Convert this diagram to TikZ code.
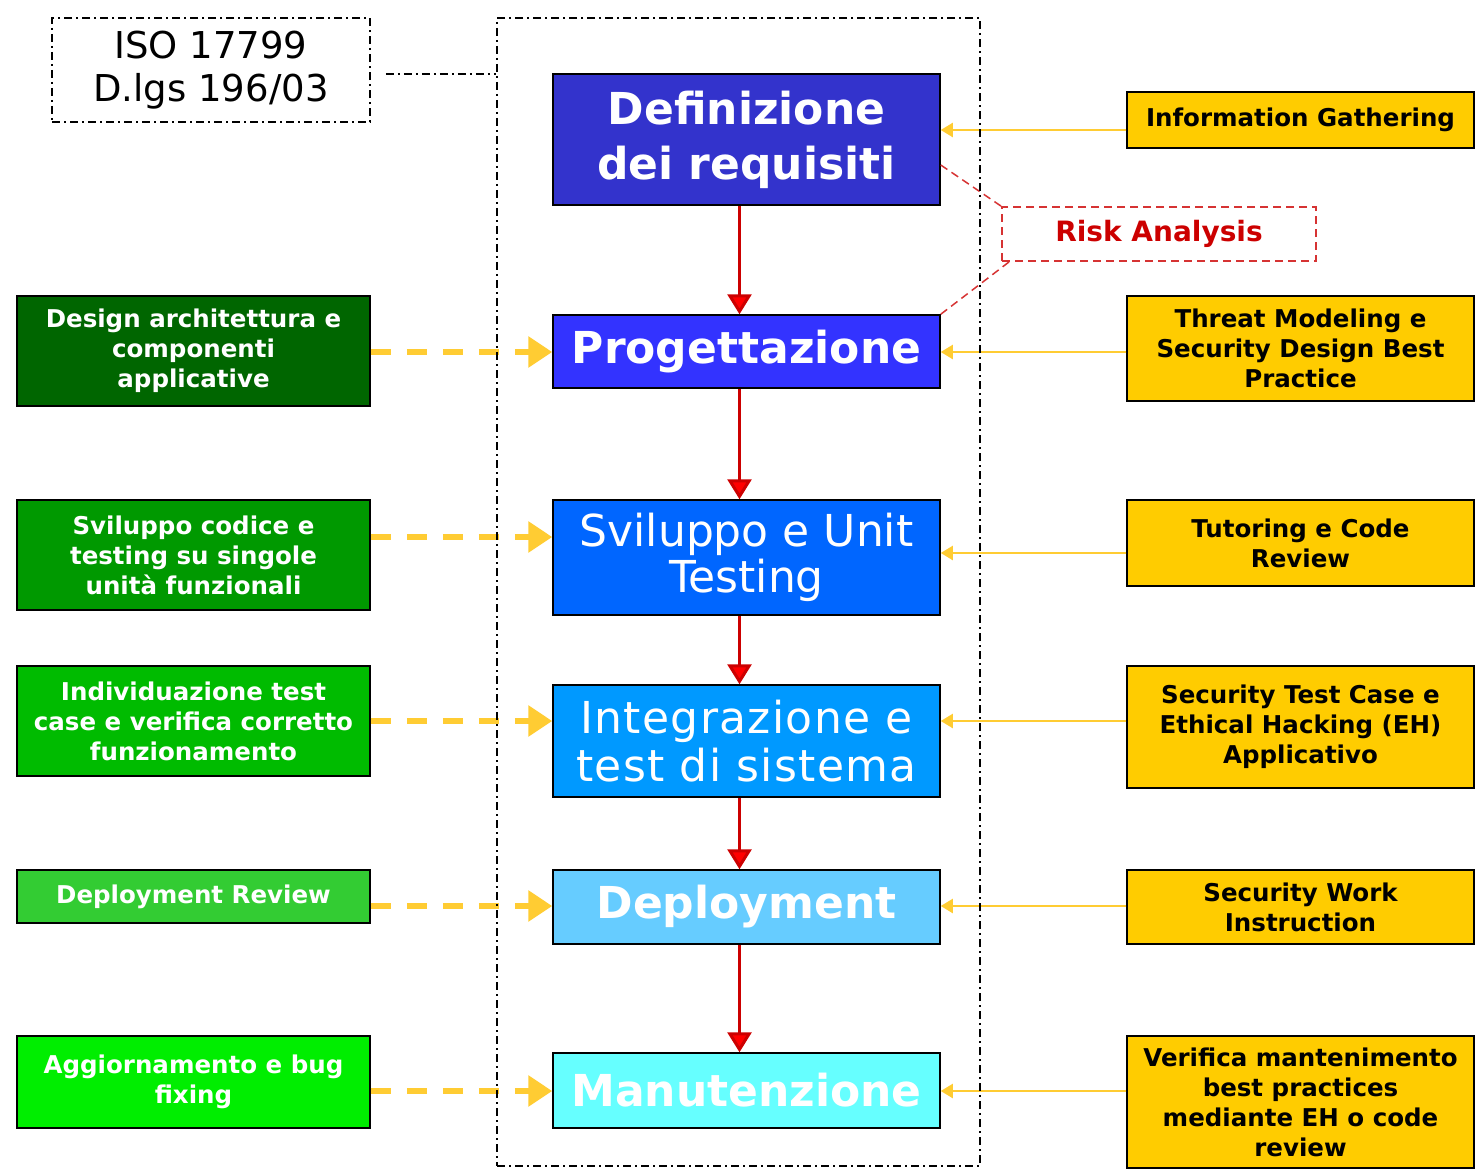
\documentclass[tikz,border=0pt]{standalone}
\usepackage{fontspec}
\setmainfont{DejaVu Sans}
\usepackage{tikz}
\usetikzlibrary{arrows.meta}

\definecolor{fase1}{HTML}{3333CC}
\definecolor{fase2}{HTML}{3333FF}
\definecolor{fase3}{HTML}{0066FF}
\definecolor{fase4}{HTML}{0099FF}
\definecolor{fase5}{HTML}{66CCFF}
\definecolor{fase6}{HTML}{66FFFF}
\definecolor{verde1}{HTML}{006600}
\definecolor{verde2}{HTML}{009900}
\definecolor{verde3}{HTML}{00BB00}
\definecolor{verde4}{HTML}{33CC33}
\definecolor{verde5}{HTML}{00EE00}
\definecolor{giallo}{HTML}{FFCC00}
\definecolor{oro}{HTML}{FFCC33}
\definecolor{rosso}{HTML}{CC0000}

\tikzset{
	fase/.style={draw=black, line width=1.5pt, minimum width=387pt, inner sep=0pt,
		text=white, align=center, font=\fontsize{44}{55}\selectfont\bfseries},
	attivita/.style={draw=black, line width=1.5pt, minimum width=353pt, inner sep=0pt,
		text=white, align=center, font=\fontsize{24.5}{30}\selectfont\bfseries},
	controllo/.style={draw=black, line width=1.5pt, fill=giallo, minimum width=347pt, inner sep=0pt,
		text=black, align=center, font=\fontsize{24.5}{30}\selectfont\bfseries},
	puntolinea/.style={line width=2pt, dash pattern=on 8pt off 4pt on 2pt off 4pt},
	freccia/.style={draw=rosso, line width=3pt, -{Triangle[width=24pt,length=20pt,fill=red]}},
	tratteggio/.style={draw=oro, line width=6pt, dash pattern=on 20pt off 16pt,
		-{Triangle[width=30pt,length=24pt]}},
	rimando/.style={draw=oro, line width=2pt, -{Triangle[width=14pt,length=12pt]}},
	rischio/.style={draw=rosso!80, line width=1.5pt, dash pattern=on 8pt off 5pt},
}

\begin{document}
\begin{tikzpicture}[x=1pt,y=-1pt]
	\useasboundingbox (0,0) rectangle (1476,1175);

	\node[draw=black, puntolinea, line width=1.5pt, minimum width=318pt, minimum height=104pt, inner sep=0pt,
		align=center, font=\fontsize{37}{43}\selectfont] (iso) at (211,70) {ISO 17799\\D.lgs 196/03};

	% fasi del ciclo di vita
	\node[fase, fill=fase1, minimum height=131pt] (def) at (746.5,139.5) {Definizione\\dei requisiti};
	\node[fase, fill=fase2, minimum height=73pt] (prog) at (746.5,351.5) {Progettazione};
	\node[fase, fill=fase3, minimum height=115pt, font=\fontsize{44}{46}\selectfont] (svil) at (746.5,557.5) {Sviluppo e Unit\\Testing};
	\node[fase, fill=fase4, minimum height=112pt, font=\fontsize{44}{48}\selectfont\addfontfeatures{LetterSpace=3}] (integ) at (746.5,741) {Integrazione e\\test di sistema};
	\node[fase, fill=fase5, minimum height=74pt] (depl) at (746.5,907) {Deployment};
	\node[fase, fill=fase6, minimum height=75pt] (man) at (746.5,1090.5) {Manutenzione};

	% attivita a sinistra
	\node[attivita, fill=verde1, minimum height=110pt] (design) at (193.5,351) {Design architettura e\\componenti\\applicative};
	\node[attivita, fill=verde2, minimum height=110pt] (codice) at (193.5,555) {Sviluppo codice e\\testing su singole\\unità funzionali};
	\node[attivita, fill=verde3, minimum height=110pt] (indiv) at (193.5,721) {Individuazione test\\case e verifica corretto\\funzionamento};
	\node[attivita, fill=verde4, minimum height=53pt] (deprev) at (193.5,896.5) {Deployment Review};
	\node[attivita, fill=verde5, minimum height=92pt] (agg) at (193.5,1082) {Aggiornamento e bug\\fixing};

	% controlli di sicurezza a destra
	\node[controllo, minimum height=56pt] (info) at (1300.5,120) {Information Gathering};
	\node[controllo, minimum height=105pt] (threat) at (1300.5,348.5) {Threat Modeling e\\Security Design Best\\Practice};
	\node[controllo, minimum height=86pt] (tutor) at (1300.5,543) {Tutoring e Code\\Review};
	\node[controllo, minimum height=122pt] (sectest) at (1300.5,727) {Security Test Case e\\Ethical Hacking (EH)\\Applicativo};
	\node[controllo, minimum height=74pt] (work) at (1300.5,907) {Security Work\\Instruction};
	\node[controllo, minimum height=132pt] (verif) at (1300.5,1102) {Verifica mantenimento\\best practices\\mediante EH o code\\review};

	\node[rischio, minimum width=314pt, minimum height=54pt, inner sep=0pt, text=rosso,
		font=\fontsize{28}{32}\selectfont\bfseries] (risk) at (1159,234) {Risk Analysis};

	\foreach \a/\b in {def/prog, prog/svil, svil/integ, integ/depl, depl/man}
		\draw[freccia] ([xshift=-7pt]\a.south) -- ([xshift=-7pt]\b.north);

	\foreach \s/\d/\y in {design/prog/352, codice/svil/537, indiv/integ/721, deprev/depl/906, agg/man/1091}
		\draw[tratteggio] (\s.east |- 0,\y) -- (\d.west |- 0,\y);

	\foreach \s/\d/\y in {info/def/130, threat/prog/352, tutor/svil/553, sectest/integ/721, work/depl/906, verif/man/1091}
		\draw[rimando] (\s.west |- 0,\y) -- (\d.east |- 0,\y);

	\draw[rischio] (def.east |- 0,165) -- (risk.north west);
	\draw[rischio] (prog.north east) -- ([xshift=8pt]risk.south west);

	\node[draw=black, puntolinea, minimum width=483pt, minimum height=1148pt, inner sep=0pt] (frame) at (738.5,592) {};
	\draw[puntolinea] ([xshift=15pt]iso.east |- 0,74) -- (frame.west |- 0,74);
\end{tikzpicture}
\end{document}
